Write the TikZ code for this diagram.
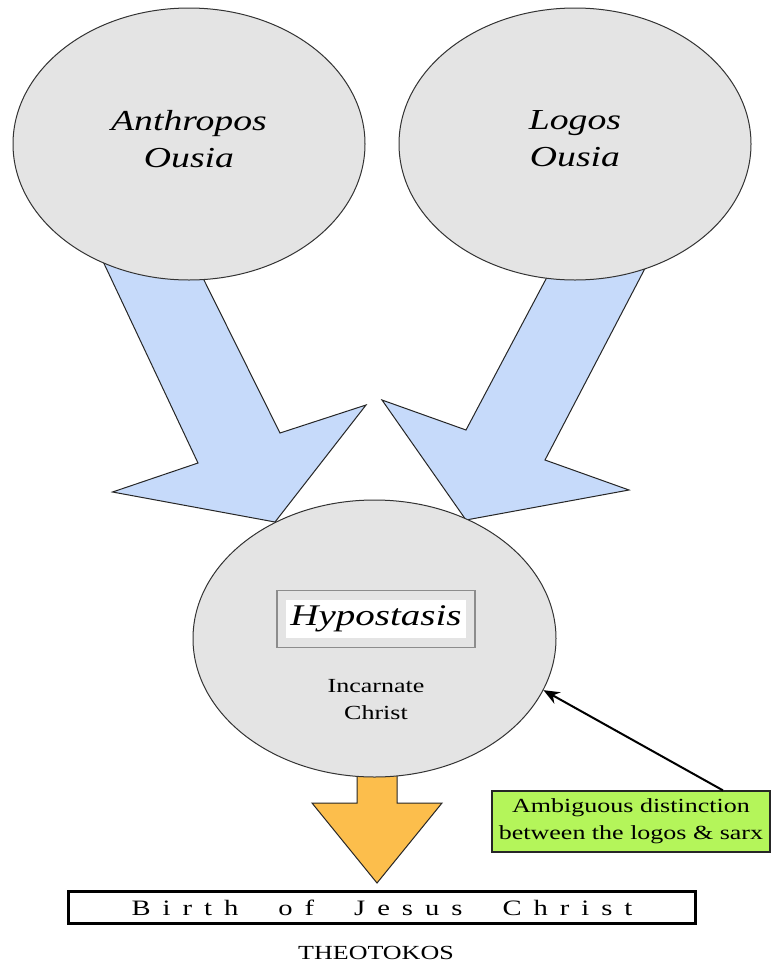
\documentclass[tikz,border=0pt]{standalone}
\usepackage{fontspec}
\setmainfont[FakeStretch=1.3]{Liberation Serif}
\usetikzlibrary{shapes.geometric,arrows.meta,backgrounds}

\definecolor{ousiagray}{RGB}{228,228,228}
\definecolor{arrowblue}{RGB}{198,218,250}
\definecolor{arrowgold}{RGB}{252,190,76}
\definecolor{notegreen}{RGB}{180,245,90}

\newcommand\ls{\hspace{6pt}}
\newcommand\ws{\hspace{20pt}}

\tikzset{
  ousia/.style={ellipse, draw=black!80, fill=ousiagray, line width=0.5pt, inner sep=0pt, align=center},
  blockarrow/.style={draw=black!85, line width=0.5pt, fill=#1},
}

\begin{document}
\begin{tikzpicture}[x=0.5pt,y=-0.5pt]
\useasboundingbox (0,0) rectangle (771,964);

\node [ousia, minimum width=176pt, minimum height=136pt, text depth=5pt, font=\fontsize{14.5}{18.5}\selectfont\itshape] (anthropos) at (189,144) {Anthropos\\Ousia};
\node [ousia, minimum width=176pt, minimum height=136pt, text depth=5pt, font=\fontsize{14.5}{18.5}\selectfont\itshape] (logos) at (575,144) {Logos\\Ousia};

\node [ousia, minimum width=181.5pt, minimum height=138.5pt] (christ) at (374.5,638.5) {};
\node [draw=black!45, fill=ousiagray, line width=0.6pt, inner sep=4.6pt] (hypo) at (376,619) {\setlength\fboxsep{3pt}\colorbox{white}{\makebox[83.75pt]{\fontsize{15}{18}\selectfont\itshape Hypostasis}}};
\node [align=center, font=\fontsize{10}{13.5}\selectfont] (incarnate) at (376,700) {Incarnate\\Christ};

\node [draw=black!85, fill=notegreen, line width=0.6pt, minimum width=139pt, minimum height=30.5pt, inner sep=0pt, align=center, font=\fontsize{10}{13.5}\selectfont] (note) at (631,821.5) {Ambiguous distinction\\between the logos \& sarx};
\draw [-{Stealth[length=8pt,width=6.5pt]}, line width=1pt] ([xshift=46pt]note.north) -- (christ.-17);

\node [draw, line width=1.5pt, minimum width=313.5pt, minimum height=16pt, inner sep=0pt, font=\fontsize{11}{13}\selectfont] (birth) at (382,907.5) {B\ls i\ls r\ls t\ls h\ws o\ls f\ws J\ls e\ls s\ls u\ls s\ws C\ls h\ls r\ls i\ls s\ls t};
\node [anchor=base, font=\fontsize{10}{12}\selectfont] (theotokos) at (376,959) {THEOTOKOS};

\begin{scope}[on background layer]
\fill [white] (0,0) rectangle (771,964);
\draw [blockarrow=arrowblue] (100,255) -- (198,463) -- (112.5,492) -- (275,522) -- (366,405) -- (280,433) -- (195,262) -- cycle;
\draw [blockarrow=arrowblue] (555,262) -- (466,430) -- (382,400) -- (466,520) -- (629,490) -- (545,460) -- (652,255) -- cycle;
\draw [blockarrow=arrowgold] (357,760) -- (357,803) -- (312,803) -- (377,883) -- (442,803) -- (397,803) -- (397,760) -- cycle;
\end{scope}

\end{tikzpicture}
\end{document}
